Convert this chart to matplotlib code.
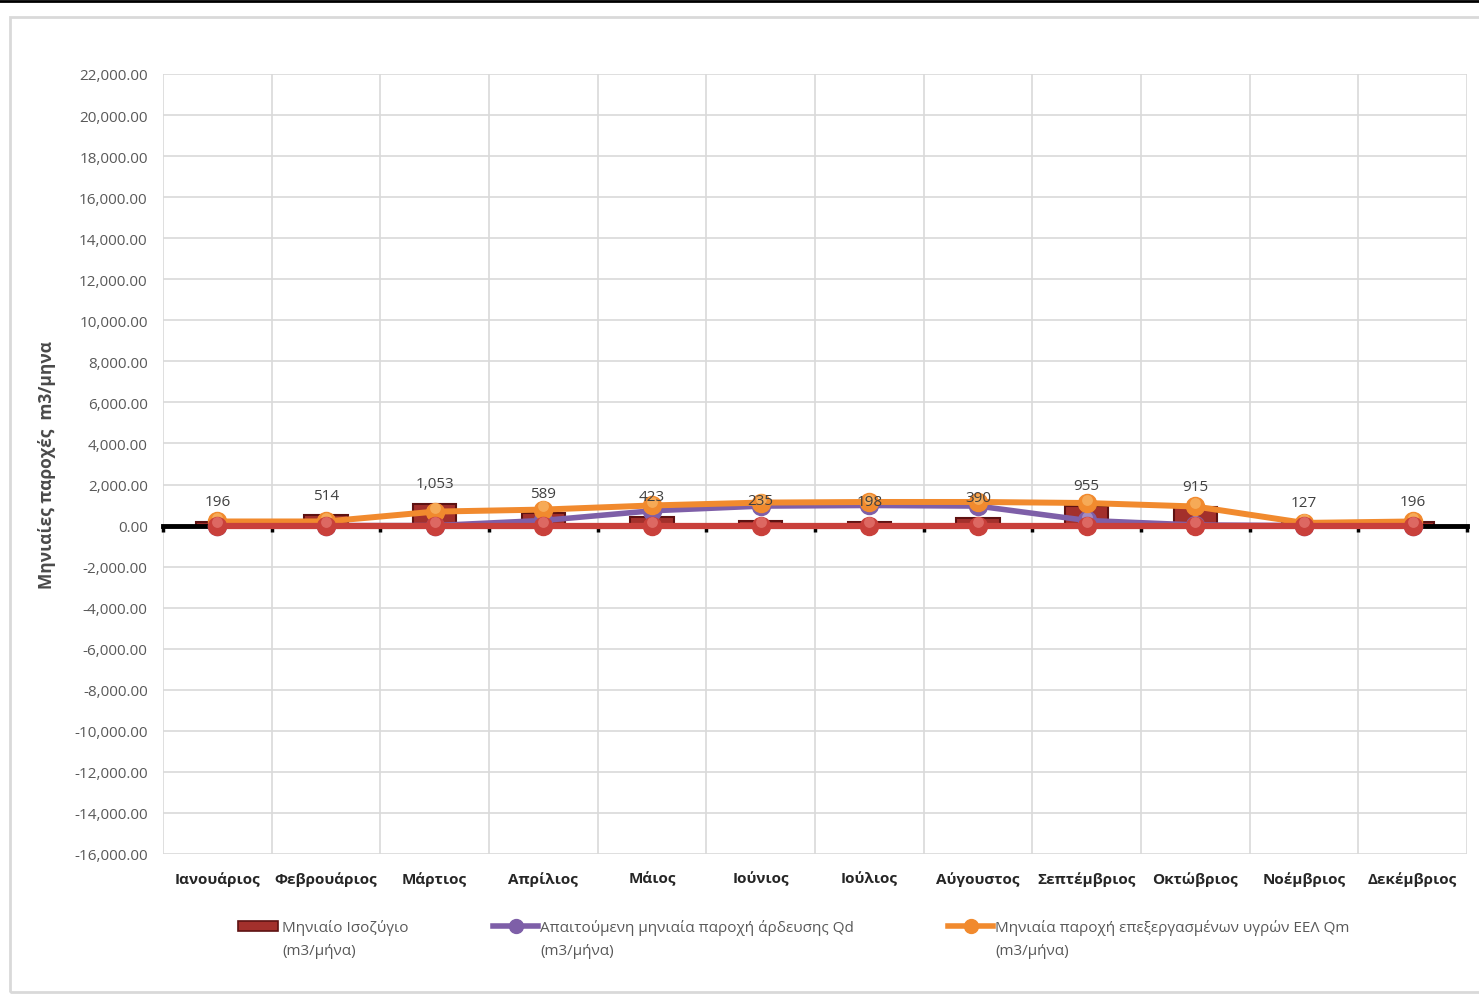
import matplotlib.pyplot as plt
import matplotlib.transforms as mtransforms
from matplotlib.patches import Rectangle
from matplotlib.lines import Line2D
import numpy as np

plt.rcParams['font.family'] = ['Open Sans', 'DejaVu Sans']

# ---------------- data ----------------
months = ['Ιανουάριος', 'Φεβρουάριος', 'Μάρτιος', 'Απρίλιος', 'Μάιος', 'Ιούνιος',
          'Ιούλιος', 'Αύγουστος', 'Σεπτέμβριος', 'Οκτώβριος', 'Νοέμβριος', 'Δεκέμβριος']
balance = [196, 514, 1053, 589, 423, 235, 198, 390, 955, 915, 127, 196]
qd = [0, 0, 0, 250, 720, 950, 980, 950, 250, 30, 0, 0]
qm = [200, 200, 680, 780, 980, 1120, 1150, 1150, 1100, 930, 130, 200]
zero_series = [0] * 12

label_bal = 'Μηνιαίο Ισοζύγιο\n(m3/μήνα)'
label_qd = 'Απαιτούμενη μηνιαία παροχή άρδευσης Qd\n(m3/μήνα)'
label_qm = 'Μηνιαία παροχή επεξεργασμένων υγρών ΕΕΛ Qm\n(m3/μήνα)'
y_title = 'Μηνιαίες παροχές  m3/μηνα'

C_BAR, C_BAR_EDGE = '#a3302c', '#5e1212'
C_QD, C_QD_LIGHT = '#7e5fa8', '#c2b2dc'
C_QM, C_QM_LIGHT = '#f18a2e', '#fbc57a'
C_RED, C_RED_LIGHT = '#c9403b', '#ee8a84'
GRID = '#d9d9d9'
TXT = '#595959'

W, H = 1479, 995
fig = plt.figure(figsize=(W / 100, H / 100), dpi=100)
ax = fig.add_axes([163 / W, 1 - 855 / H, (1467 - 163) / W, (855 - 75) / H])

x = np.arange(len(months))


def sphere(ax, xs, ys, base, light, z, size=13):
    # shaded ball marker: base disc plus a soft highlight above centre
    ax.plot(xs, ys, linestyle='none', marker='o', markersize=size,
            markerfacecolor=base, markeredgecolor=base, zorder=z)
    hi = mtransforms.offset_copy(ax.transData, fig=fig, x=0, y=2.5, units='points')
    ax.plot(xs, ys, linestyle='none', marker='o', markersize=size * 0.6,
            markerfacecolor=light, markeredgecolor='none', alpha=0.55,
            transform=hi, zorder=z + 0.1)


# bars
ax.bar(x, balance, width=0.4, color=C_BAR, edgecolor=C_BAR_EDGE, linewidth=1.5, zorder=2)
for xi, v in zip(x, balance):
    ax.annotate(f'{v:,}', (xi, v), xytext=(0, 9), textcoords='offset points',
                ha='center', va='bottom', fontsize=11, color='#404040', zorder=7)

# lines
ax.plot(x, qd, color=C_QD, linewidth=4, solid_capstyle='round', zorder=3)
sphere(ax, x, qd, C_QD, C_QD_LIGHT, 3.2)
ax.plot(x, qm, color=C_QM, linewidth=4.3, solid_capstyle='round', zorder=4)
sphere(ax, x, qm, C_QM, C_QM_LIGHT, 4.2)
ax.plot(x, zero_series, color=C_RED, linewidth=4.5, solid_capstyle='round', zorder=5)
sphere(ax, x, zero_series, C_RED, C_RED_LIGHT, 5.2)

# axes
ax.set_xlim(-0.5, len(months) - 0.5)
ax.set_ylim(-16000, 22000)
ax.set_yticks(np.arange(-16000, 22001, 2000))
ax.yaxis.set_major_formatter(plt.FuncFormatter(lambda v, p: f'{v:,.2f}'))
ax.set_xticks(np.arange(-0.5, len(months), 1.0))
ax.set_xticklabels([])
ax.grid(True, color=GRID, linewidth=1.2, zorder=0)
ax.set_axisbelow(True)
for s in ['top', 'right', 'left']:
    ax.spines[s].set_visible(False)
ax.spines['bottom'].set_position(('data', 0))
ax.spines['bottom'].set_linewidth(3.5)
ax.spines['bottom'].set_color('black')
ax.spines['bottom'].set_zorder(2.5)
ax.tick_params(axis='x', direction='out', length=4, width=2.5, color='black')
ax.tick_params(axis='y', length=0, pad=11, labelsize=11, labelcolor=TXT)

for xi, m in zip(x, months):
    ax.text(xi, -0.031, m, transform=ax.get_xaxis_transform(), ha='center', va='center',
            fontsize=11, fontweight='bold', color='#262626')

fig.text(47 / W, 1 - 465 / H, y_title, rotation=90, ha='center', va='center',
         fontsize=12.5, fontweight='bold', color='#4a4a4a')

# legend, laid out by hand so the markers sit on the first text line
legend_items = [(238, 278, 282, label_bal, 'bar', C_BAR, None),
                (493, 538, 540, label_qd, 'line', C_QD, C_QD_LIGHT),
                (948, 993, 995, label_qm, 'line', C_QM, C_QM_LIGHT)]
ly = 1 - 927 / H
for x0, x1, tx, lab, kind, col, light in legend_items:
    if kind == 'bar':
        fig.patches.append(Rectangle((x0 / W, ly - 5 / H), (x1 - x0) / W, 10 / H,
                                     transform=fig.transFigure, facecolor=col,
                                     edgecolor=C_BAR_EDGE, linewidth=1.2))
    else:
        fig.lines.append(Line2D([x0 / W, x1 / W], [ly, ly], transform=fig.transFigure,
                                color=col, linewidth=4))
        fig.lines.append(Line2D([(x0 + x1) / 2 / W], [ly], transform=fig.transFigure,
                                marker='o', markersize=10, markerfacecolor=col,
                                markeredgecolor=col, linestyle='none'))
    fig.text(tx / W, ly + 7 / H, lab, ha='left', va='top', fontsize=11,
             color=TXT, linespacing=1.7)

# chart frame and top rule
fig.patches.append(Rectangle((10 / W, 1 - 993 / H), (W + 20) / W, (993 - 18) / H,
                             transform=fig.transFigure, facecolor='none',
                             edgecolor=GRID, linewidth=2))
fig.lines.append(Line2D([0, 1], [1 - 1.5 / H, 1 - 1.5 / H], transform=fig.transFigure,
                        color='black', linewidth=2))

fig.savefig('out.png', dpi=100)
